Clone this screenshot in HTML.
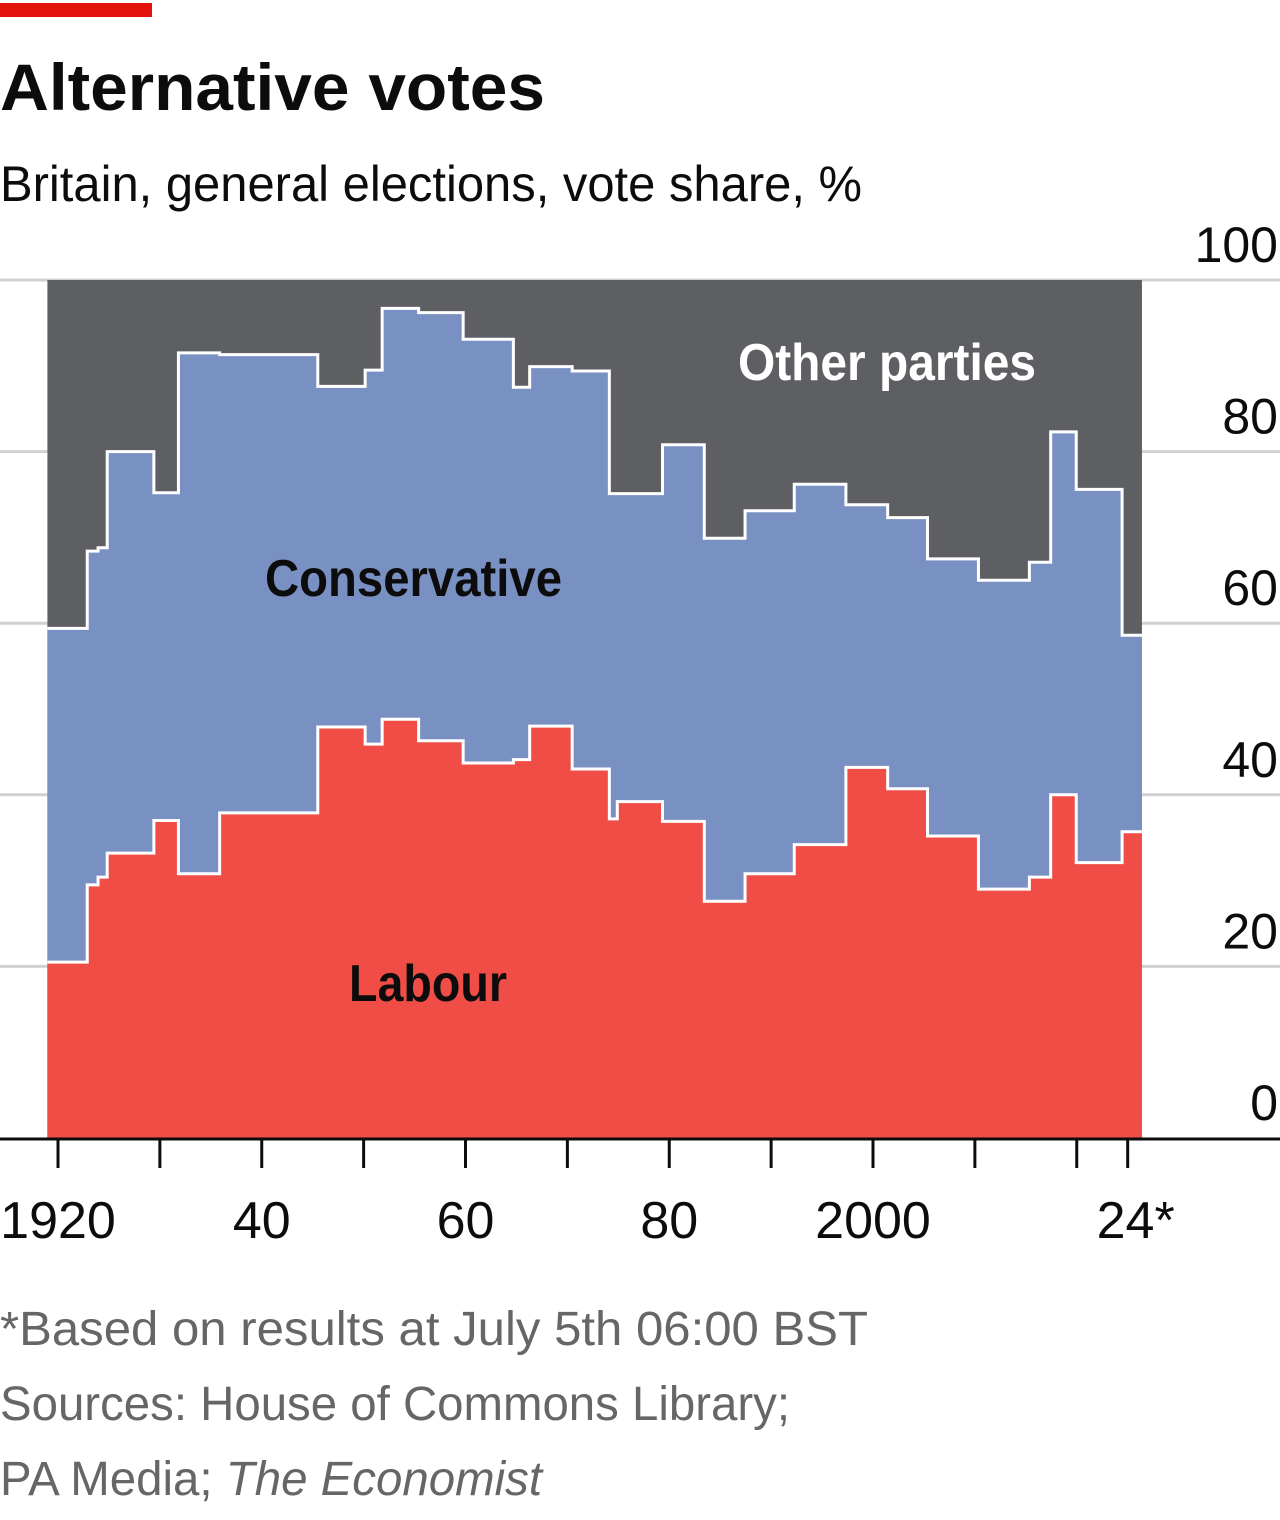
<!DOCTYPE html>
<html><head><meta charset="utf-8"><style>
html,body{margin:0;padding:0;background:#fff;width:1280px;height:1520px;overflow:hidden}
svg{display:block;font-family:"Liberation Sans Narrow","Liberation Sans",sans-serif}
</style></head><body>
<svg id="chart" width="1280" height="1520" viewBox="0 0 1280 1520">
<rect x="0" y="3" width="152" height="14" fill="#e3120b"/>
<text x="0" y="110" font-size="66" font-weight="bold" fill="#0c0c0c" textLength="545" lengthAdjust="spacingAndGlyphs">Alternative votes</text>
<text x="0" y="201" font-size="50" fill="#0c0c0c" textLength="862" lengthAdjust="spacingAndGlyphs">Britain, general elections, vote share, %</text>
<g id="grid"></g>
<g id="areas"></g>
<g id="axis"></g>
<text x="265" y="596" font-size="52" font-weight="bold" fill="#0c0c0c" textLength="297" lengthAdjust="spacingAndGlyphs">Conservative</text>
<text x="349" y="1001" font-size="52" font-weight="bold" fill="#0c0c0c" textLength="158" lengthAdjust="spacingAndGlyphs">Labour</text>
<text x="738" y="380" font-size="52" font-weight="bold" fill="#fff" textLength="298" lengthAdjust="spacingAndGlyphs">Other parties</text>
<text x="0" y="1345" font-size="48" fill="#666" textLength="868" lengthAdjust="spacingAndGlyphs">*Based on results at July 5th 06:00 BST</text>
<text x="0" y="1420" font-size="48" fill="#666" textLength="790" lengthAdjust="spacingAndGlyphs">Sources: House of Commons Library;</text>
<text x="0" y="1495" font-size="48" fill="#666" textLength="542" lengthAdjust="spacingAndGlyphs">PA Media; <tspan font-style="italic">The Economist</tspan></text>
</svg>
<script>
const electionDates=[1918.96,1922.87,1923.93,1924.83,1929.41,1931.82,1935.87,1945.5,1950.15,1951.82,1955.4,1959.77,1964.7,1966.3,1970.47,1974.12,1974.9,1979.34,1983.44,1987.44,1992.27,1997.34,2001.44,2005.35,2010.35,2015.35,2017.44,2019.95,2024.45];
const endDate=2026.4;
const labour=[20.5,29.5,30.4,33.2,37.0,30.8,37.9,47.9,45.9,48.8,46.3,43.7,44.1,48.0,43.0,37.2,39.2,36.9,27.6,30.8,34.2,43.2,40.7,35.2,29.0,30.4,40.0,32.1,35.7];
const conservative=[38.9,38.9,38.4,46.8,38.2,60.7,53.4,39.7,43.6,47.9,49.9,49.4,43.4,41.9,46.4,37.9,35.9,43.9,42.3,42.3,42.0,30.6,31.6,32.3,36.0,36.7,42.3,43.5,22.9];
const yTicks=[0,20,40,60,80,100];
const xTickYears=[1920,1930,1940,1950,1960,1970,1980,1990,2000,2010,2020,2025];
const xLabels=[[1920,"1920"],[1940,"40"],[1960,"60"],[1980,"80"],[2000,"2000"],[2025,"24*"]];
const NS="http://www.w3.org/2000/svg";
const xs=yr=>58+(yr-1920)*10.1875;
const ys=v=>1138-v*8.58;
function mk(tag,attrs,parent){const e=document.createElementNS(NS,tag);for(const k in attrs)e.setAttribute(k,attrs[k]);parent.appendChild(e);return e;}
const grid=document.getElementById('grid'),areas=document.getElementById('areas'),axis=document.getElementById('axis');
yTicks.forEach(t=>{
 if(t>0){const l=mk('line',{x1:0,x2:1280,y1:ys(t),y2:ys(t),stroke:'#d0d0d0','stroke-width':3},grid);
 
 }
 const tx=mk('text',{x:1278,y:ys(t)-18,'font-size':50,'text-anchor':'end',fill:'#0c0c0c'},grid);
 tx.textContent=t;
 
 
});
function stepPath(vals){let d='';vals.forEach((v,i)=>{const x0=xs(electionDates[i]),x1=i<vals.length-1?xs(electionDates[i+1]):xs(endDate);d+=(i===0?'M':'L')+x0+','+ys(v)+'L'+x1+','+ys(v);});return d;}
const cumTop=labour.map((l,i)=>l+conservative[i]);
const xa=xs(electionDates[0]),xb=xs(endDate);
const oth=mk('rect',{x:xa,y:ys(100),width:xb-xa,height:ys(0)-ys(100),fill:'#5e5f63'},areas);


const con=mk('path',{d:stepPath(cumTop)+'L'+xb+','+ys(0)+'L'+xa+','+ys(0)+'Z',fill:'#7891c2'},areas);


const lab=mk('path',{d:stepPath(labour)+'L'+xb+','+ys(0)+'L'+xa+','+ys(0)+'Z',fill:'#ef4d45'},areas);


const l1=mk('path',{d:stepPath(cumTop),fill:'none',stroke:'#fff','stroke-width':3},areas);


const l2=mk('path',{d:stepPath(labour),fill:'none',stroke:'#fff','stroke-width':3},areas);


const ax=mk('line',{x1:0,x2:1280,y1:1139,y2:1139,stroke:'#0c0c0c','stroke-width':3},axis);


xTickYears.forEach(t=>{const tk=mk('line',{x1:xs(t),x2:xs(t),y1:1139,y2:1168,stroke:'#0c0c0c','stroke-width':3},axis);
 
 });
xLabels.forEach(([t,s])=>{const tx=mk('text',{x:t===2025?xs(t)+8:xs(t),y:1238,'font-size':52,'text-anchor':'middle',fill:'#0c0c0c'},axis);
 tx.textContent=s;
 
 });
</script>
</body></html>
